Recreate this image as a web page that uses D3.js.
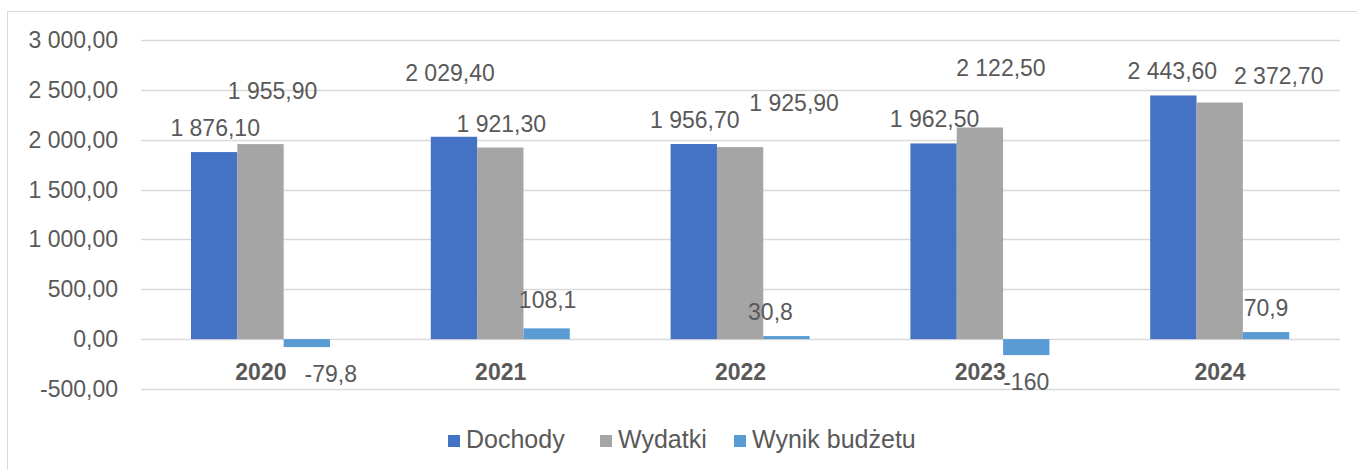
<!DOCTYPE html>
<html>
<head>
<meta charset="utf-8">
<script src="https://cdn.jsdelivr.net/npm/d3@7"></script>
<style>
  body { margin: 0; background: #fff; }
  text { font-family: "Liberation Sans", Arial, sans-serif; fill: #595959; }
</style>
</head>
<body>
<div id="chart"></div>
<script>
var years = ["2020", "2021", "2022", "2023", "2024"];
var seriesNames = ["Dochody", "Wydatki", "Wynik budżetu"];
var dochody = [1876.1, 2029.4, 1956.7, 1962.5, 2443.6];
var wydatki = [1955.9, 1921.3, 1925.9, 2122.5, 2372.7];
var wynik = [-79.8, 108.1, 30.8, -160, 70.9];
var yTicks = [-500, 0, 500, 1000, 1500, 2000, 2500, 3000];

var colors = ["#4472C4", "#A5A5A5", "#5B9BD5"];

// label nudges (px) because labels in the original were dragged around
var nudge = [
  [[1, 0], [-4, -40], [1, 0], [1, 0], [-1, 0]],
  [[12, -29], [1, 0], [54, -20], [21, -35], [59, -3]],
  [[24, 0], [1, -4], [-16, 0], [0, 0], [0, 0]]
];

var W = 1357, H = 470;
var svg = d3.select("#chart").append("svg")
  .attr("width", W).attr("height", H);

svg.append("rect")
  .attr("x", 7.5).attr("y", 11.5)
  .attr("width", W).attr("height", H)
  .attr("fill", "none").attr("stroke", "#D9D9D9");

var pl = d3.formatLocale({decimal: ",", thousands: "\u00a0", grouping: [3], currency: ["", ""], minus: "-"});
var fmt2 = pl.format(",.2f");
var fmtGen = pl.format(",~f");

var x0 = d3.scaleBand().domain(years).range([141, 1340]);
var x1 = d3.scaleBand().domain(seriesNames).range([50, 189]);
var y = d3.scaleLinear().domain([-500, 3000]).range([389, 40]);

// grid + y axis labels
svg.append("g").selectAll("line").data(yTicks).enter().append("line")
  .attr("x1", 141).attr("x2", 1340)
  .attr("y1", d => Math.round(y(d)) + 0.5).attr("y2", d => Math.round(y(d)) + 0.5)
  .attr("stroke", "#D9D9D9").attr("stroke-width", 1.5);

svg.append("g").selectAll("text").data(yTicks).enter().append("text")
  .attr("x", 118).attr("y", d => y(d) + 8)
  .attr("text-anchor", "end")
  .style("font-size", "23px")
  .text(d => fmt2(d));

var table = [];
[dochody, wydatki, wynik].forEach(function(vals, s) {
  vals.forEach(function(v, i) {
    table.push({s: s, i: i, year: years[i], name: seriesNames[s], value: v});
  });
});

svg.append("g").selectAll("rect").data(table).enter().append("rect")
  .attr("x", d => x0(d.year) + x1(d.name))
  .attr("width", x1.bandwidth())
  .attr("y", d => y(Math.max(0, d.value)))
  .attr("height", d => Math.abs(y(d.value) - y(0)))
  .attr("fill", d => colors[d.s]);

// year labels
svg.append("g").selectAll("text").data(years).enter().append("text")
  .attr("x", d => x0(d) + x0.bandwidth() / 2)
  .attr("y", 380)
  .attr("text-anchor", "middle")
  .style("font-size", "23px").style("font-weight", "bold")
  .text(d => d);

// data labels
svg.append("g").selectAll("text").data(table).enter().append("text")
  .attr("x", d => x0(d.year) + x1(d.name) + x1.bandwidth() / 2 + nudge[d.s][d.i][0])
  .attr("y", function(d) {
    var cy = d.value >= 0 ? y(d.value) - 24 : y(d.value) + 27;
    return cy + 8 + nudge[d.s][d.i][1];
  })
  .attr("text-anchor", "middle")
  .style("font-size", "23px")
  .text(d => d.s < 2 ? fmt2(d.value) : fmtGen(d.value));

// legend
var legX = [448, 600, 734];
var leg = svg.append("g").selectAll("g").data(seriesNames).enter().append("g")
  .attr("transform", (d, i) => "translate(" + legX[i] + ",0)");
leg.append("rect").attr("x", 0).attr("y", 435).attr("width", 12).attr("height", 12)
  .attr("fill", (d, i) => colors[i]);
leg.append("text").attr("x", 18).attr("y", 448)
  .style("font-size", "25px")
  .text(d => d);
</script>
</body>
</html>
